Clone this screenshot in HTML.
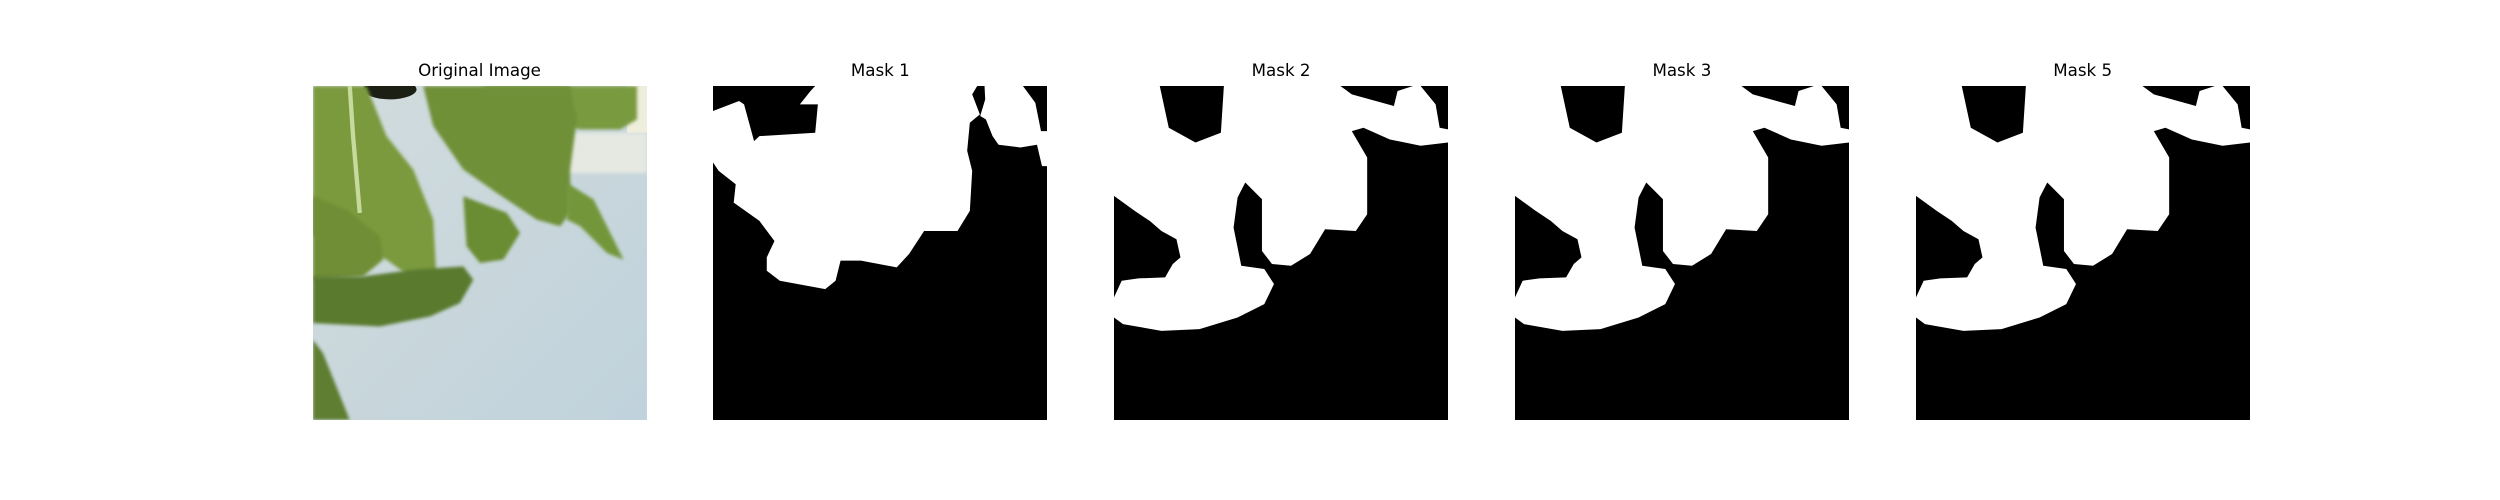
<!DOCTYPE html>
<html><head><meta charset="utf-8"><style>
html,body{margin:0;padding:0;background:#fff;}
body{width:2500px;height:500px;position:relative;overflow:hidden;font-family:"DejaVu Sans","Liberation Sans",sans-serif;}
.title{position:absolute;top:60px;width:334px;text-align:center;font-size:16.7px;color:#000;line-height:20px;}
svg.p{position:absolute;top:85.5px;width:334px;height:334px;}
</style></head><body>
<div id="fig"></div>
<script>
const titles=["Original Image","Mask 1","Mask 2","Mask 3","Mask 5"];
const panelIndex=[0,1,2,3,4];
const mask1Main=[[0,7.5],[7.8,4.5],[9.3,5.5],[12.3,16.5],[13.9,15],[30.6,14],[31.4,5.5],[26,5.5],[29.2,1.5],[30.6,0],[79.1,0],[77.6,2.5],[79.9,8.5],[76.9,11],[76.1,19.4],[77.6,25.4],[76.9,37.4],[73.2,43.4],[63.2,43.4],[58.7,50.3],[55,54.3],[44.3,52.3],[38.2,52.3],[36.7,58.3],[33.6,60.8],[20,58.3],[16.1,55.3],[16.1,51.3],[18.4,46.4],[13.9,40.4],[6.2,34.9],[6.8,29.4],[1.7,25.4],[0,22.9]];
const mask1Right=[[81.3,0],[92.8,0],[96.5,5],[98.2,13.5],[100,13.5],[100,24],[98.5,24],[97,17.6],[92,18.4],[85.5,17.6],[83.7,15],[81.7,10],[80,9],[81.5,4]];
const maskB=[[0,0],[13.7,0],[16.4,12.5],[24.4,16.9],[32,14],[32.9,0],[67.8,0],[71.2,2.5],[83.8,6],[84.9,1.5],[89.5,0],[91.8,0],[96.3,5.5],[97.5,12.5],[100,13],[100,16.9],[91.8,17.9],[82.6,16],[74.7,12.5],[71.2,13.5],[75.8,21.4],[75.8,38.4],[72.4,43.4],[63.2,42.9],[58.7,50.3],[53,53.8],[47.3,53.3],[44.3,49.4],[44.3,33.9],[39.3,28.9],[37,33.4],[35.8,42.4],[38.1,53.8],[45,54.8],[47.9,59.3],[45,65.3],[37,69.3],[25.6,72.8],[14.2,73.3],[2.7,71.3],[0,69.3],[0,63.3],[2.3,58.3],[7.3,57.6],[15.3,57.3],[17.6,53.3],[19.9,51.3],[18.7,45.9],[14.2,43.4],[10.7,40.4],[6.2,37.4],[0,32.9]];
const masks={1:[mask1Main,mask1Right],2:[maskB],3:[maskB],4:[maskB]};
const leaves=[
 {c:"#7a9a3f",p:[[50,0],[97,0],[97,10],[92,13],[80,13],[68,10]]},
 {c:"#7a9a3c",p:[[0,0],[16,0],[22,15],[30,25],[36,40],[37,58],[33,60],[22,52],[12,48],[0,45]]},
 {c:"#6f9038",p:[[33,0],[77,0],[79,10],[77,25],[77,38],[74,42],[67,40],[55,32],[45,25],[36,12]]},
 {c:"#6a8c30",p:[[45,33],[58,38],[62,44],[57,52],[50,53],[46,48]]},
 {c:"#73963a",p:[[76,29],[84,34],[92,50],[93,52],[88,50],[80,42],[76,40]]},
 {c:"#6f8e35",p:[[0,33],[10,37],[20,45],[21,52],[15,57],[0,58]]},
 {c:"#5a7a2f",p:[[0,57],[15,57],[30,55],[45,54],[48,58],[44,65],[35,69],[20,72],[0,71]]},
 {c:"#5e7e30",p:[[0,76],[3,80],[11,100],[0,100]]}
];
const NS="http://www.w3.org/2000/svg";
const fig=document.getElementById('fig');
const x0=312.5, step=400.8;
function pts(a){return a.map(q=>q[0]+","+q[1]).join(" ");}
panelIndex.forEach(i=>{
  const t=document.createElement('div');
  t.className='title';
  t.style.left=(x0+i*step)+'px';
  t.textContent=titles[i];
  
  
  fig.appendChild(t);
  const s=document.createElementNS(NS,'svg');
  s.setAttribute('class','p');
  s.setAttribute('viewBox','0 0 100 100');
  s.setAttribute('preserveAspectRatio','none');
  s.style.left=(x0+i*step)+'px';
  
  
  if(i===0){
    s.innerHTML='<defs><linearGradient id="bg" x1="0" y1="0" x2="1" y2="1"><stop offset="0" stop-color="#d2dcdd"/><stop offset="1" stop-color="#c0d2dc"/></linearGradient><filter id="bl"><feGaussianBlur stdDeviation="0.5"/></filter></defs><rect width="100" height="100" fill="url(#bg)"/><rect x="76" y="14" width="24" height="12" fill="#e6e9e2" filter="url(#bl)"/><rect x="94" y="0" width="6" height="14" fill="#eeeedd"/><ellipse cx="23" cy="1" rx="8" ry="3" fill="#1c1f14"/>';
    leaves.forEach((l,k)=>{
      const p=document.createElementNS(NS,'polygon');
      p.setAttribute('points',pts(l.p));
      p.setAttribute('fill',l.c);
      p.setAttribute('filter','url(#bl)');
      
      
      s.appendChild(p);
    });
    const st=document.createElementNS(NS,'polyline');
    st.setAttribute('points','11,0 12,15 14,38');
    st.setAttribute('fill','none');st.setAttribute('stroke','#c5da9c');st.setAttribute('stroke-width','1.3');
    
    
    s.appendChild(st);
  } else {
    const r=document.createElementNS(NS,'rect');
    r.setAttribute('width','100');r.setAttribute('height','100');r.setAttribute('fill','#000');
    s.appendChild(r);
    masks[i].forEach((m,k)=>{
      const p=document.createElementNS(NS,'polygon');
      p.setAttribute('points',pts(m));
      p.setAttribute('fill','#fff');
      
      
      s.appendChild(p);
    });
  }
  fig.appendChild(s);
});
</script>
</body></html>
